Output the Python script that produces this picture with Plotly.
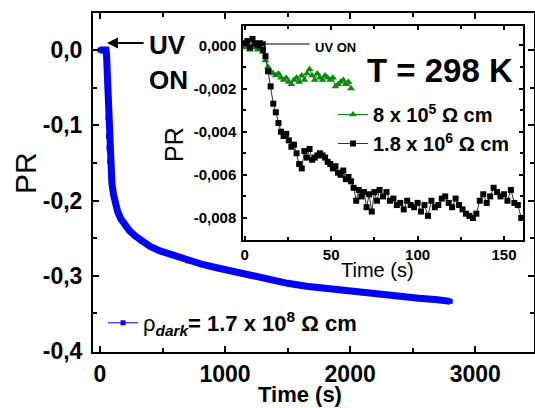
import plotly.graph_objects as go

W, H = 535, 408

# ---------------- data ----------------
main_t = [0, 10, 20, 30, 40, 48, 52, 55, 58, 61, 64, 68, 72, 78, 85, 95, 108, 122, 140,
          165, 195, 235, 280, 330, 400, 480, 580, 700, 820, 950, 1080, 1200, 1350,
          1500, 1650, 1800, 1950, 2100, 2250, 2400, 2550, 2700, 2800]
main_pr = [0, 0, 0, 0, 0, 0, -0.006, -0.02, -0.045, -0.07, -0.09, -0.115, -0.13, -0.148,
           -0.162, -0.177, -0.192, -0.203, -0.214, -0.224, -0.232, -0.240, -0.247, -0.254,
           -0.261, -0.267, -0.273, -0.280, -0.285, -0.290, -0.295, -0.300, -0.305,
           -0.310, -0.314, -0.317, -0.320, -0.322, -0.325, -0.327, -0.330, -0.332, -0.334]

blk_t = [0, 1.5, 3, 4.5, 6, 7.5, 9, 10.5, 12, 13.5, 15, 16.5, 18, 19.5, 21, 22.5, 24, 25.5,
         27, 28.5, 30, 31.5, 33, 34.5, 36, 37.5, 39, 40.5, 42, 43.5, 45, 46.5, 48, 49.5,
         51, 52.5, 54, 55.5, 57, 58.5, 60, 61.5, 63, 64.5, 66, 67.5, 69, 70.5, 72, 73.5,
         75, 76.5, 78, 80, 82, 84, 86, 88, 90, 92, 94, 96, 98, 100, 102, 104, 106, 108,
         110, 112, 114, 116, 118, 120, 122, 124, 126, 128, 130, 132, 134, 136, 138, 140,
         142, 144, 146, 148, 150, 152, 154, 156, 158, 160]
blk_pr = [0.0001, 0.0002, -0.0001, 0.0003, 0.0001, 0.0000, 0.0001, -0.0002, -0.0005,
          -0.0012, -0.0019, -0.0027, -0.0031, -0.0036, -0.0040, -0.0042, -0.0041, -0.0044,
          -0.0047, -0.0046, -0.0050, -0.0055, -0.0057, -0.0049, -0.0052, -0.0048, -0.0053,
          -0.0052, -0.0051, -0.0050, -0.0051, -0.0052, -0.0054, -0.0055, -0.0057, -0.0056,
          -0.0059, -0.0060, -0.0058, -0.0062, -0.0061, -0.0063, -0.0066, -0.0072, -0.0067,
          -0.0070, -0.0068, -0.0075, -0.0069, -0.0077, -0.0068, -0.0072, -0.0067, -0.0070,
          -0.0068, -0.0072, -0.0071, -0.0074, -0.0073, -0.0076, -0.0072, -0.0074, -0.0075,
          -0.0073, -0.0077, -0.0074, -0.0079, -0.0072, -0.0075, -0.0074, -0.0071, -0.0070,
          -0.0073, -0.0075, -0.0071, -0.0074, -0.0076, -0.0078, -0.0079, -0.0080, -0.0078,
          -0.0072, -0.0069, -0.0073, -0.0070, -0.0066, -0.0068, -0.0070, -0.0069, -0.0072,
          -0.0067, -0.0073, -0.0074, -0.0080]

grn_t = [0, 1.5, 3, 4.5, 6, 7.5, 9, 10.5, 12, 13.5, 15, 16.5, 18, 19.5, 21, 22.5, 24, 25.5,
         27, 28.5, 30, 31.5, 33, 34.5, 36, 37.5, 39, 40.5, 42, 43.5, 45, 46.5, 48, 49.5,
         51, 52.5, 54, 55.5, 57, 58.5, 60, 61.5]
grn_pr = [-0.0001, 0.0000, -0.0002, -0.0001, 0.0000, -0.0002, -0.0001, -0.0003, -0.0007,
          -0.0010, -0.0012, -0.0013, -0.0014, -0.0013, -0.0015, -0.0016, -0.0015, -0.0017,
          -0.0018, -0.0016, -0.0015, -0.0017, -0.0014, -0.0016, -0.0013, -0.0011, -0.0014,
          -0.0016, -0.0013, -0.0015, -0.0016, -0.0014, -0.0015, -0.0016, -0.0015, -0.0019,
          -0.0018, -0.0017, -0.0016, -0.0018, -0.0017, -0.0020]

main_xticks = [0, 1000, 2000, 3000]
main_xtext = ["0", "1000", "2000", "3000"]
main_yticks = [0, -0.1, -0.2, -0.3, -0.4]
main_ytext = ["0,0", "-0,1", "-0,2", "-0,3", "-0,4"]
ins_xticks = [0, 50, 100, 150]
ins_xtext = ["0", "50", "100", "150"]
ins_yticks = [0, -0.002, -0.004, -0.006, -0.008]
ins_ytext = ["0,000", "-0,002", "-0,004", "-0,006", "-0,008"]

FONT = "Liberation Sans, Arial, sans-serif"
BLUE = "#0000ff"
GREEN = "#0a8a0a"


def px(x):
    return x / W


def py(y):
    return 1 - y / H


fig = go.Figure()

fig.add_trace(go.Scatter(x=main_t, y=main_pr, mode="lines", xaxis="x", yaxis="y",
                         line=dict(color=BLUE, width=7), showlegend=False, hoverinfo="skip"))
fig.add_trace(go.Scatter(
    x=main_t, y=main_pr, mode="lines+markers", xaxis="x", yaxis="y",
    line=dict(color=BLUE, width=1), marker=dict(symbol="square", size=5, color=BLUE),
    name="<span style='font-weight:normal'>ρ</span><sub><i>dark</i></sub>= 1.7 x 10<sup>8</sup> Ω cm",
    legend="legend"))

fig.add_trace(go.Scatter(
    x=grn_t, y=grn_pr, mode="lines+markers", xaxis="x2", yaxis="y2",
    line=dict(color=GREEN, width=1), marker=dict(symbol="triangle-up", size=7, color=GREEN),
    name="8 x 10<sup>5</sup> Ω cm", legend="legend2"))
fig.add_trace(go.Scatter(
    x=blk_t, y=blk_pr, mode="lines+markers", xaxis="x2", yaxis="y2",
    line=dict(color="#333333", width=1), marker=dict(symbol="square", size=6, color="black"),
    name="1.8 x 10<sup>6</sup> Ω cm", legend="legend2"))

axis_common = dict(showline=True, linewidth=2, linecolor="black", mirror="ticks",
                   ticks="inside", tickwidth=2, tickcolor="black", showgrid=False,
                   zeroline=False, tickmode="array", automargin=False)

fig.update_layout(
    width=W, height=H, autosize=False,
    margin=dict(l=0, r=0, t=0, b=0, pad=0, autoexpand=False),
    paper_bgcolor="white", plot_bgcolor="white",
    font=dict(family=FONT, color="black"),
    xaxis=dict(axis_common, domain=[px(93), px(534)], range=[-56, 3470], anchor="y",
               tickvals=main_xticks, ticktext=main_xtext, ticklen=6,
               tickfont=dict(size=23, family=FONT, weight="bold"),
               minor=dict(tickvals=[500, 1500, 2500], ticks="inside", ticklen=4,
                          tickwidth=2, tickcolor="black")),
    yaxis=dict(axis_common, domain=[py(352), py(13)], range=[-0.4013, 0.0492], anchor="x",
               tickvals=main_yticks, ticktext=main_ytext, ticklen=6, ticklabelstandoff=4,
               tickfont=dict(size=23, family=FONT, weight="bold"),
               minor=dict(tickvals=[-0.05, -0.15, -0.25, -0.35], ticks="inside", ticklen=4,
                          tickwidth=2, tickcolor="black")),
    xaxis2=dict(axis_common, domain=[px(243), px(523)], range=[-1, 161], anchor="y2",
                linewidth=1.5, tickwidth=1.5, ticklen=4,
                tickvals=ins_xticks, ticktext=ins_xtext,
                tickfont=dict(size=15, family=FONT, weight="bold"),
                minor=dict(tickvals=[25, 75, 125], ticks="inside", ticklen=3,
                           tickwidth=1.5, tickcolor="black")),
    yaxis2=dict(axis_common, domain=[py(240), py(26)], range=[-0.00902, 0.0009], anchor="x2",
                linewidth=1.5, tickwidth=1.5, ticklen=4,
                tickvals=ins_yticks, ticktext=ins_ytext, ticklabelstandoff=2,
                tickfont=dict(size=15, family=FONT, weight="bold"),
                minor=dict(tickvals=[-0.001, -0.003, -0.005, -0.007], ticks="inside",
                           ticklen=3, tickwidth=1.5, tickcolor="black")),
    legend=dict(x=px(103), y=py(323), xanchor="left", yanchor="middle",
                bgcolor="rgba(0,0,0,0)", font=dict(size=22, family=FONT, weight="bold"),
                itemsizing="trace"),
    legend2=dict(x=px(333), y=py(95), xanchor="left", yanchor="top",
                 bgcolor="rgba(0,0,0,0)", font=dict(size=20, family=FONT, weight="bold"),
                 tracegroupgap=0),
)

ann = [
    dict(text="PR", x=px(25), y=py(173), textangle=-90, font=dict(size=30)),
    dict(text="<b>Time (s)</b>", x=px(300), y=py(394), font=dict(size=22)),
    dict(text="PR", x=px(174), y=py(145), textangle=-90, font=dict(size=25)),
    dict(text="Time (s)", x=px(377), y=py(270), font=dict(size=20)),
    dict(text="<b>T = 298 K</b>", x=px(440), y=py(70), font=dict(size=33)),
    dict(text="<b>UV</b>", x=px(147), y=py(45), xanchor="left", font=dict(size=26)),
    dict(text="<b>ON</b>", x=px(147), y=py(80), xanchor="left", font=dict(size=26)),
    dict(text="<b>UV ON</b>", x=px(313), y=py(47), xanchor="left", font=dict(size=13)),
]
for a in ann:
    a.update(xref="paper", yref="paper", showarrow=False)
    a.setdefault("xanchor", "center")
    a["yanchor"] = "middle"
    a["font"] = dict(a["font"], family=FONT, color="black")
    fig.add_annotation(**a)

fig.add_annotation(x=px(107), y=py(43), xref="paper", yref="paper", text="",
                   showarrow=True, ax=38, ay=0, arrowhead=2, arrowsize=1.1, arrowwidth=2,
                   arrowcolor="black")
fig.add_annotation(x=px(259), y=py(44), xref="paper", yref="paper", text="",
                   showarrow=True, ax=52, ay=0, arrowhead=2, arrowsize=1.1, arrowwidth=1.2,
                   arrowcolor="black")

fig.write_html("out.html")
